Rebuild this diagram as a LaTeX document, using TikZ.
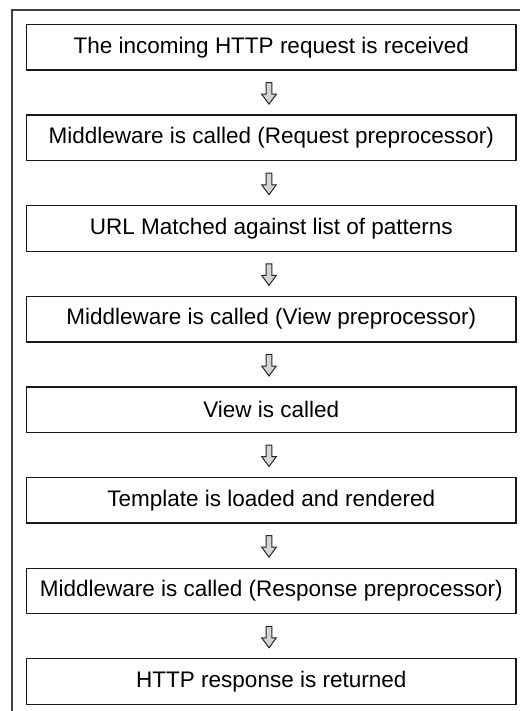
\documentclass[tikz,border=0pt]{standalone}
\usepackage{fontspec}
\setmainfont{Liberation Sans}
\usetikzlibrary{calc}
\definecolor{framegray}{HTML}{404040}
\definecolor{arrowfill}{HTML}{D4D4D4}
\tikzset{
  stepbox/.style={draw=black!90, line width=1.3pt, minimum width=489.5pt, minimum height=45.5pt,
    inner sep=0pt, font=\fontsize{22.5}{26}\selectfont},
  flowarrow/.pic={
    \draw[draw=black!85, fill=arrowfill, line width=1pt, line join=miter]
      (-2.9,-10.75) -- (2.9,-10.75) -- (2.9,0.8) -- (7.3,0.8) -- (0,10.75)
      -- (-7.3,0.8) -- (-2.9,0.8) -- cycle;
  },
}
\begin{document}
\begin{tikzpicture}[x=1pt,y=-1pt]
\useasboundingbox (0,0) rectangle (520,711);
\draw[framegray, line width=1.4pt] (12,711) -- (12,10) -- (520,10);
\foreach \i/\t in {0/{The incoming HTTP request is received},
                   1/{Middleware is called (Request preprocessor)},
                   2/{URL Matched against list of patterns},
                   3/{Middleware is called (View preprocessor)},
                   4/{View is called},
                   5/{Template is loaded and rendered},
                   6/{Middleware is called (Response preprocessor)},
                   7/{HTTP response is returned}}{
  \node[stepbox] (b\i) at (271.3, 47.3+\i*90.6) {\t};
}
\foreach \i [evaluate=\i as \j using int(\i+1)] in {0,...,6}{
  \coordinate (m\i) at ($($(b\i.south)!0.5!(b\j.north)$)+(-2.3,0.8)$);
  \pic at (m\i) {flowarrow};
}
\end{tikzpicture}
\end{document}
